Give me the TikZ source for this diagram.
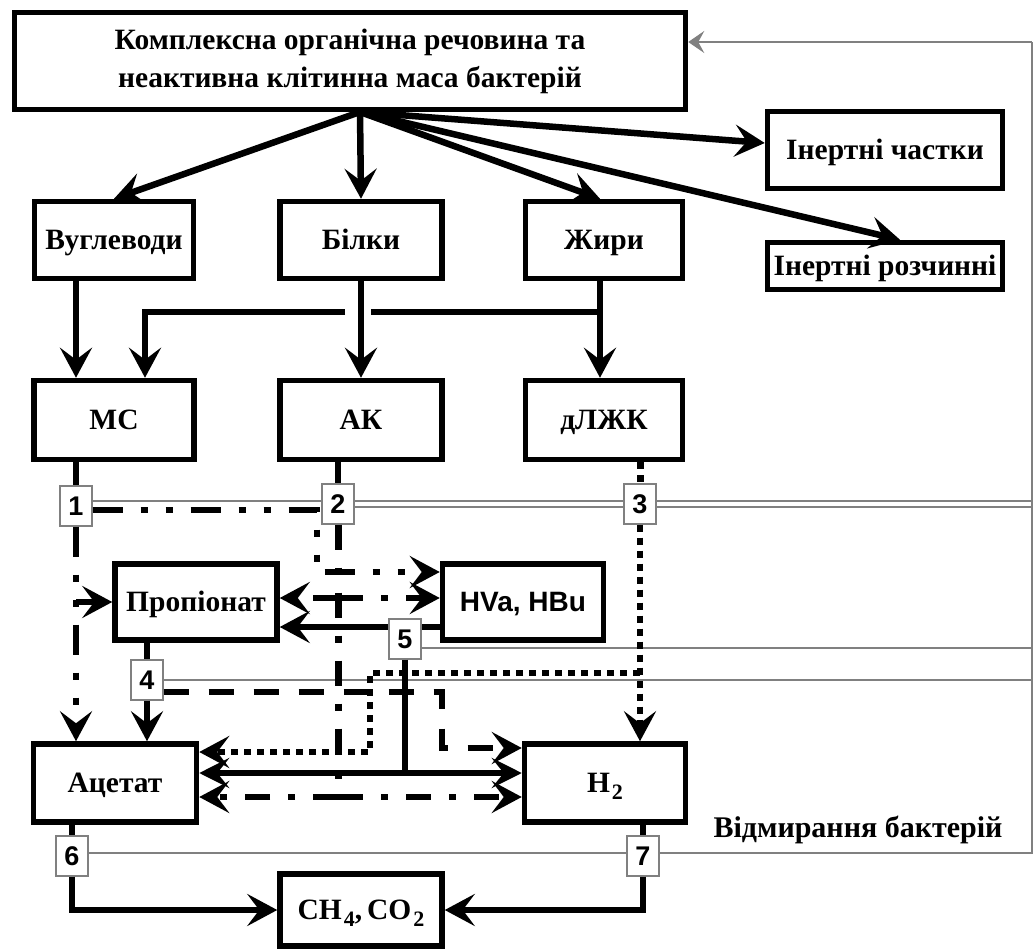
\documentclass[tikz,border=0pt]{standalone}
\usepackage{fontspec}
\setmainfont{Liberation Serif}
\newfontfamily\arialfont{Liberation Sans}
\usetikzlibrary{arrows.meta,backgrounds}
\definecolor{deathgray}{gray}{0.5}
\newcommand\lowsub[1]{\kern2pt\raisebox{-7pt}{\fontsize{22}{22}\selectfont #1}}

\begin{document}
\begin{tikzpicture}[x=1pt,y=-1pt]
  \tikzset{box/.style={draw,line width=5.5pt,fill=white,minimum width=#1,minimum height=77pt,inner sep=0pt,font=\bfseries\fontsize{29.5}{38}\selectfont},
    cell/.style={box=#1,text height=19.5pt,text depth=0pt},
    num box/.style={draw=deathgray,line width=1.2pt,fill=white,minimum width=32pt,minimum height=40pt,inner sep=0pt,text height=19.5pt,text depth=0pt,font=\arialfont\bfseries\fontsize{27}{27}\selectfont},
    arr/.style={line width=6.5pt,-{Stealth[length=30pt,width=32pt,inset=12pt]}},
    arr2/.style={line width=6.5pt,{Stealth[length=30pt,width=30pt,inset=12pt]}-{Stealth[length=30pt,width=30pt,inset=12pt]}},
    link/.style={line width=6.5pt},
    dd line/.style={line width=7pt,dash pattern=on 30pt off 18pt on 7pt off 18pt on 7pt off 18pt},
    dk line/.style={line width=7pt,dash pattern=on 25pt off 18pt on 7pt off 18pt},
    ds line/.style={line width=7pt,dash pattern=on 25pt off 20pt},
    dt line/.style={line width=7pt,dash pattern=on 7pt off 6pt},
    death/.style={draw=deathgray,line width=1.5pt}}

  \useasboundingbox (0,0) rectangle (1034,950);

  \node [box=671pt,minimum height=97pt,align=center] (top) at (350,61) {Комплексна органічна речовина та\\неактивна клітинна маса бактерій};
  \node [cell=159pt] (carb) at (114,240) {Вуглеводи};
  \node [cell=162pt] (prot) at (361,240) {Білки};
  \node [cell=157pt] (fat) at (604,240) {Жири};
  \node [cell=235pt] (inpart) at (885,150) {Інертні частки};
  \node [cell=235pt,minimum height=47pt] (insol) at (885,266) {Інертні розчинні};
  \node [cell=160pt,minimum height=79pt] (ms) at (114,420) {МС};
  \node [cell=162pt,minimum height=79pt] (ak) at (361,420) {АК};
  \node [cell=157pt,minimum height=79pt] (lcfa) at (604,420) {дЛЖК};
  \node [cell=162pt,minimum height=76pt] (prop) at (196,602) {Пропіонат};
  \node [cell=161pt,minimum height=76pt,font=\arialfont\bfseries\fontsize{28}{30}\selectfont] (hva) at (523,602) {HVa, HBu};
  \node [cell=163pt,minimum height=78pt] (acet) at (115,783) {Ацетат};
  \node [cell=161pt,minimum height=78pt] (htwo) at (605,783) {H\lowsub{2}};
  \node [cell=162pt,minimum height=72pt] (gas) at (361,910) {CH\lowsub{4},\,CO\lowsub{2}};
  \node [font=\bfseries\fontsize{30}{32}\selectfont] (dying) at (858,830) {Відмирання бактерій};

  \node [num box] (n1) at (76,506) {1};
  \node [num box] (n2) at (338,504) {2};
  \node [num box] (n3) at (640,504) {3};
  \node [num box] (n4) at (147,680) {4};
  \node [num box] (n5) at (405,639) {5};
  \node [num box] (n6) at (72,856) {6};
  \node [num box] (n7) at (643,856) {7};

  \coordinate (fan) at (360,112);
  \coordinate (fatj) at (600,312);
  \coordinate (hopL) at (345,312);
  \coordinate (hopR) at (371,312);
  \coordinate (b1) at (317,510);
  \coordinate (j2a) at (338,598);
  \coordinate (j2b) at (338,797);
  \coordinate (j3) at (640,673);
  \coordinate (b3) at (370,673);
  \coordinate (b4) at (442,692);
  \coordinate (j5) at (405,773);
  \coordinate (rtop) at (1032,42);

  \draw[arr] (fan) -- (carb.north);
  \draw[arr] (fan) -- (prot.north);
  \draw[arr] (fan) -- ([xshift=-4pt]fat.north);
  \draw[arr] (fan) -- ([yshift=7pt]inpart.west);
  \draw[arr] (fan) -- ([xshift=15pt]insol.north);

  \draw[arr] ([xshift=-38pt]carb.south) -- ([xshift=-38pt]ms.north);
  \draw[arr] (prot.south) -- (ak.north);
  \draw[arr] ([xshift=-4pt]fat.south) -- ([xshift=-4pt]lcfa.north);
  \draw[link] (fatj) -- (hopR);
  \draw[arr] (hopL) -| ([xshift=31pt]ms.north);

  \draw[link] ([xshift=-38pt]ms.south) -- (n1.north);
  \draw[link] ([xshift=-23pt]ak.south) -- (n2.north);
  \draw[dt line] ([xshift=36pt]lcfa.south) -- (n3.north);

  \draw[dd line,arr] (n1.south) -- ([xshift=-39pt]acet.north);
  \draw[dd line,arr] (n1.south |- prop.west) -- (prop.west);
  \draw[dd line,arr] ([yshift=-4pt]n1.east) -- (b1) |- ([yshift=30pt]hva.west);

  \draw[dk line] (n2.south) -- (j2b);
  \draw[dk line,arr] (j2a) -- ([yshift=4pt]prop.east);
  \draw[dk line,arr] (j2a) -- ([yshift=4pt]hva.west);
  \draw[dk line,arr] (j2b) -- ([yshift=-14pt]acet.east);
  \draw[dk line,arr] (j2b) -- ([yshift=-14pt]htwo.west);

  \draw[dt line,arr] (n3.south) -- ([xshift=35pt]htwo.north);
  \draw[dt line,arr] (j3) -- (b3) |- ([yshift=31pt]acet.east);

  \draw[link] ([xshift=-49pt]prop.south) -- (n4.north);
  \draw[ds line,arr] (n4.south) -- ([xshift=32pt]acet.north);
  \draw[ds line,arr] ([yshift=-12pt]n4.east) -- (b4) |- ([yshift=35pt]htwo.west);

  \draw[link] (n5.south) -- (j5);
  \draw[arr2] ([yshift=10pt]acet.east) -- ([yshift=10pt]htwo.west);

  \draw[link] ([xshift=-43pt]acet.south) -- (n6.north);
  \draw[arr] (n6.south) |- (gas.west);
  \draw[link] ([xshift=38pt]htwo.south) -- (n7.north);
  \draw[arr] (n7.south) |- (gas.east);

  \begin{scope}[on background layer]
    \draw[arr] ([yshift=-25pt]hva.west) -- ([yshift=-25pt]prop.east);
    \draw[death] ([yshift=5pt]n1.east) -| (rtop);
    \draw[death] ([yshift=-3pt]n2.east) -| (rtop);
    \draw[death] ([yshift=3pt]n3.east) -| (rtop);
    \draw[death] ([yshift=-9pt]n5.east) -| (rtop);
    \draw[death] (n4.east) -| (rtop);
    \draw[death] ([yshift=3pt]n6.east) -| (rtop);
    \draw[death] ([yshift=3pt]n7.east) -| (rtop);
  \end{scope}
  \draw[death,-{Stealth[length=16pt,width=22pt,inset=6pt]}] (rtop) -- ([yshift=19pt]top.east);
\end{tikzpicture}
\end{document}
